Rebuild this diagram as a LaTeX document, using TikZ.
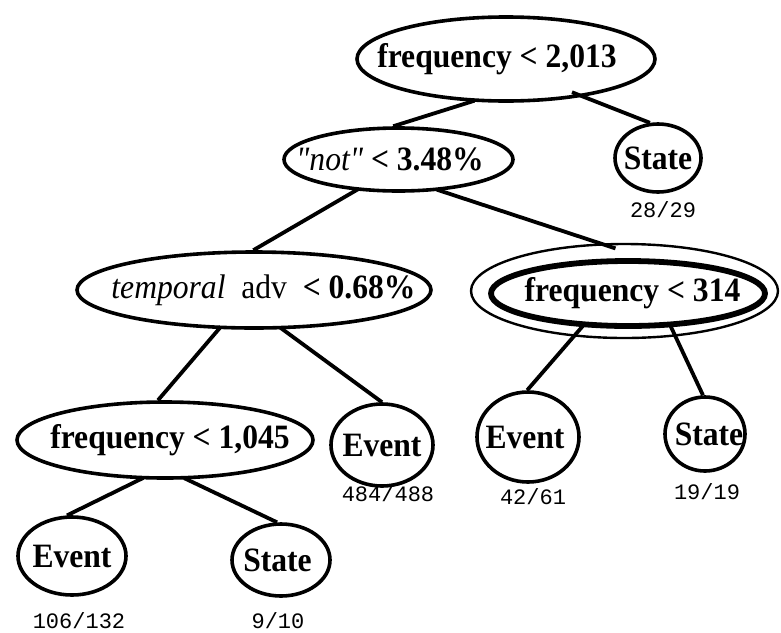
\documentclass[tikz,border=0pt]{standalone}
\usepackage{fontspec}
\usepackage{graphicx}
\setmainfont{Liberation Serif}
\newfontfamily\countfont{Liberation Mono}
\usetikzlibrary{shapes.geometric}
\tikzset{
  test/.style={draw, ellipse, line width=1.8pt, inner sep=0pt,
    font=\bfseries\fontsize{15.8}{18}\selectfont},
  count/.style={inner sep=0pt, font=\countfont\fontsize{11}{13}\selectfont},
  branch/.style={line width=1.9pt, shorten <=-1.5pt},
}
% text of zero width, so the ellipse keeps its own size
\newcommand{\inbox}[2][0pt]{\makebox[0pt]{\hspace*{#1}\scalebox{1}[1.08]{#2}}}
\begin{document}
\begin{tikzpicture}[x=0.5pt, y=-0.5pt]
        \useasboundingbox (0,0) rectangle (781,632);
        % Nodes
        \node (root) [test, minimum width=149pt, minimum height=42pt] at (506,59) {\inbox[-9pt]{frequency < 2,013}};
        \node (notn) [test, minimum width=114.5pt, minimum height=31.5pt] at (398.5,159.5) {\inbox[-8.5pt]{{\mdseries\itshape\textquotedbl not\textquotedbl} < 3.48\%}};
        \node (st1) [test, minimum width=43pt, minimum height=34pt] at (658,158) {\inbox{State}};
        \node (temp) [test, minimum width=177pt, minimum height=38pt] at (254,290) {\inbox[9.5pt]{{\mdseries\itshape temporal}\enspace{\mdseries adv}\enspace< 0.68\%}};
        \node (f314o) [test, line width=1.2pt, minimum width=153.5pt, minimum height=47pt] at (624.5,291) {};
        \node (f314) [test, line width=2.9pt, minimum width=137pt, minimum height=32.5pt] at (628,293.5) {\inbox[4.5pt]{frequency < 314}};
        \node (f1045) [test, minimum width=148pt, minimum height=38pt] at (165,440) {\inbox[5pt]{frequency < 1,045}};
        \node (ev484) [test, minimum width=51pt, minimum height=41pt] at (382,445) {\inbox{Event}};
        \node (ev42) [test, minimum width=51pt, minimum height=45pt] at (528,437) {\inbox[-3pt]{Event}};
        \node (st19) [test, minimum width=40pt, minimum height=37pt] at (705,434) {\inbox[4pt]{State}};
        \node (ev106) [test, minimum width=54pt, minimum height=39pt] at (72,556) {\inbox{Event}};
        \node (st9) [test, minimum width=49pt, minimum height=36pt] at (281,560) {\inbox[-3.5pt]{State}};

        % Counts
        \node (c1) [count] at (663,210) {28/29};
        \node (c2) [count] at (388,494) {484/488};
        \node (c3) [count] at (533,497) {42/61};
        \node (c4) [count] at (707,492) {19/19};
        \node (c5) [count] at (79,621) {106/132};
        \node (c6) [count] at (278,621) {9/10};

        % Edges
        \draw[branch] (root.-129) -- (notn.99);
        \draw[branch, shorten <=-6pt] (root.-26) -- (st1.103);
        \draw[branch] (notn.-144) -- (temp.91);
        \draw[branch, shorten >=-8pt] (notn.-37) -- (f314o.117);
        \draw[branch] (temp.-132) -- (f1045.100);
        \draw[branch] (temp.-54) -- (ev484.90);
        \draw[branch] (f1045.-122) -- (ev106.97);
        \draw[branch] (f1045.-61) -- (st9.96);
        \draw[branch] (f314.-144) -- (ev42.91);
        \draw[branch] (f314.-38) -- (st19.93);
\end{tikzpicture}
\end{document}
